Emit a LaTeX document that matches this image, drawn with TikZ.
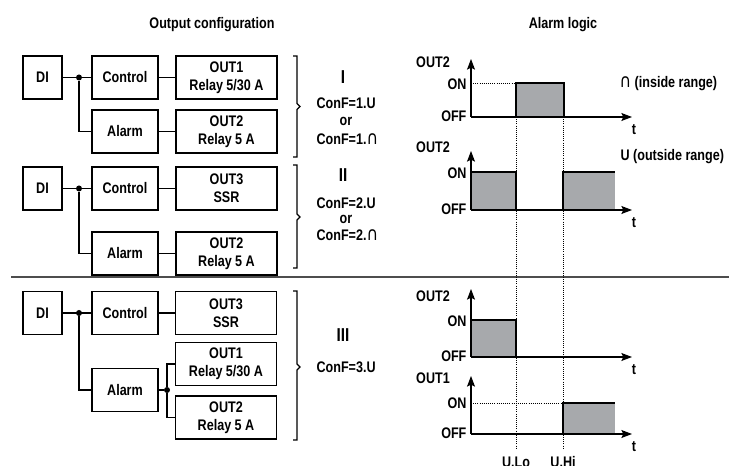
\documentclass[tikz,border=0pt]{standalone}
\usepackage{fontspec}
\setmainfont{Liberation Sans}[FakeStretch=0.82]
\newfontfamily\capfont{DejaVu Sans}[FakeStretch=0.85]
\usepackage{xcolor}
\usepackage{tikz}
\usetikzlibrary{arrows.meta,positioning,calc}
\definecolor{ALGray}{HTML}{A7A9AC}
\definecolor{ALRule}{HTML}{4D4D4D}
\newcommand\txtsz{\fontsize{11.5}{13.5}\selectfont}
\newcommand\icap{{\capfont\mdseries\fontsize{14}{14}\selectfont ∩}}
\tikzset{
  blk/.style={draw,line width=1.1pt,minimum height=32.25pt,inner sep=1pt,
              align=center,font=\bfseries\txtsz},
  diblk/.style={blk,minimum width=29.25pt},
  fnblk/.style={blk,minimum width=49.5pt},
  outblk/.style={blk,minimum width=75.75pt},
  wire/.style={line width=1.1pt},
  dotj/.style={circle,fill,inner sep=0pt,minimum size=4.5pt},
  axarr/.style={-{Stealth[length=8pt,width=6pt,inset=1.5pt]},line width=0.8pt},
  sig/.style={line width=2pt},
  lvl/.style={densely dotted,line width=0.6pt},
  lbl/.style={font=\bfseries\txtsz,inner sep=1pt},
  numlbl/.style={font=\bfseries\fontsize{14}{15}\selectfont,inner sep=1pt}
}
% bracket: x, top, tip, bottom
\newcommand\confbrk[4]{%
  \draw[line width=0.9pt] (#1-4,#2) -- (#1,#2) -- (#1,#3-3) -- (#1+3,#3)
    -- (#1,#3+3) -- (#1,#4) -- (#1-4,#4);}

\begin{document}
\begin{tikzpicture}[x=0.75pt,y=-0.75pt]
  \useasboundingbox (0,0) rectangle (729,466);
  % titles
  \node[lbl] (ttlcfg) at (212,25) {Output configuration};
  \node[lbl] (ttllog) at (563,25) {Alarm logic};

  % ---- configuration I
  \node[diblk]  (di1)   at (42.5,77.5)  {DI};
  \node[fnblk]  (ctl1)  at (125,77.5)   {Control};
  \node[outblk] (oa1)   at (226.5,77.5) {OUT1\\Relay 5/30 A};
  \node[fnblk]  (alm1)  at (125,131.5)  {Alarm};
  \node[outblk] (ob1)   at (226.5,131.5){OUT2\\Relay 5 A};
  \node[dotj]   (j1)    at (79,77.5) {};
  \draw[wire] (di1) -- (ctl1);
  \draw[wire] (j1) |- (alm1);
  \draw[wire] (ctl1) -- (oa1);
  \draw[wire] (alm1) -- (ob1);
  \confbrk{297}{56}{106.5}{157}
  \node[numlbl] (n1) at (343,77) {I};
  \node[lbl,anchor=west] (c1a) at (315,103) {ConF=1.U};
  \node[lbl] (c1o) at (346,121) {or};
  \node[lbl,anchor=west] (c1b) at (315,139) {ConF=1.\icap};

  % ---- configuration II
  \node[diblk]  (di2)   at (42.5,188.5)  {DI};
  \node[fnblk]  (ctl2)  at (125,188.5)   {Control};
  \node[outblk] (oa2)   at (226.5,188.5) {OUT3\\SSR};
  \node[fnblk]  (alm2)  at (125,253.5)   {Alarm};
  \node[outblk] (ob2)   at (226.5,253.5) {OUT2\\Relay 5 A};
  \node[dotj]   (j2)    at (79,188.5) {};
  \draw[wire] (di2) -- (ctl2);
  \draw[wire] (j2) |- (alm2);
  \draw[wire] (ctl2) -- (oa2);
  \draw[wire] (alm2) -- (ob2);
  \confbrk{297}{165}{217}{268}
  \node[numlbl] (n2) at (343,175) {II};
  \node[lbl,anchor=west] (c2a) at (315,203) {ConF=2.U};
  \node[lbl] (c2o) at (346,219) {or};
  \node[lbl,anchor=west] (c2b) at (315,235) {ConF=2.\icap};

  % separator
  \draw[ALRule,line width=1pt] (11,277) -- (729,277);

  % ---- configuration III
  \node[diblk]  (di3)   at (42.5,313)  {DI};
  \node[fnblk]  (ctl3)  at (125,313)   {Control};
  \node[outblk] (oa3)   at (226,313)   {OUT3\\SSR};
  \node[fnblk]  (alm3)  at (125,390)   {Alarm};
  \node[outblk] (ob3)   at (226,364)   {OUT1\\Relay 5/30 A};
  \node[outblk] (oc3)   at (226,417.5) {OUT2\\Relay 5 A};
  \node[dotj]   (j3)    at (79,313) {};
  \node[dotj]   (k3)    at (167,390) {};
  \draw[wire] (di3) -- (ctl3);
  \draw[wire] (j3) |- (alm3);
  \draw[wire] (ctl3) -- (oa3);
  \draw[wire] (alm3) -- (k3);
  \draw[wire] (ob3.west) -| (k3) |- (oc3.west);
  \confbrk{297}{291}{367}{440}
  \node[numlbl] (n3) at (343,335) {III};
  \node[lbl,anchor=west] (c3a) at (315,367) {ConF=3.U};

  % ---- alarm logic
  % grey areas
  \fill[ALGray] (516,83) rectangle (564,117);
  \fill[ALGray] (471,172) rectangle (516,210);
  \fill[ALGray] (563,172) rectangle (615,210);
  \fill[ALGray] (471,320) rectangle (516,357);
  \fill[ALGray] (563,403) rectangle (615,434);
  % thresholds
  \draw[lvl] (516,117) -- (516,448);
  \draw[lvl] (563.5,117) -- (563.5,448);
  \draw[lvl] (471,83) -- (516,83);
  \draw[lvl] (471,403) -- (563,403);
  % axes
  \foreach \yo/\yt/\yn/\yl/\nm [count=\i] in
      {117/59/84/62/OUT2,210/151/173/147/OUT2,357/289/321/296/OUT2,434/376/403/378/OUT1}{
    \draw[axarr] (471,\yo) -- (471,\yt);
    \draw[axarr] (471,\yo) -- (632,\yo);
    \node[lbl,anchor=east] (on\i)  at (468,\yn) {ON};
    \node[lbl,anchor=east] (off\i) at (468,\yo-1) {OFF};
    \node[lbl] (out\i) at (433,\yl) {\nm};
    \node[lbl] (t\i)   at (634,\yo+13) {t};
  }
  % signals
  \draw[sig] (471,117) -- (516,117) -- (516,83) -- (564,83) -- (564,117) -- (620,117);
  \draw[sig] (471,172) -- (516,172) -- (516,210) -- (563,210) -- (563,172) -- (615,172);
  \draw[sig] (471,320) -- (516,320) -- (516,357) -- (620,357);
  \draw[sig] (471,434) -- (563,434) -- (563,403) -- (615,403);
  % ranges
  \node[lbl,anchor=west] (rin)  at (618,84)  {\icap\ (inside range)};
  \node[lbl,anchor=west] (rout) at (619,157) {U (outside range)};
  \node[lbl] (ulo) at (516,462) {U.Lo};
  \node[lbl] (uhi) at (563,462) {U.Hi};
\end{tikzpicture}
\end{document}
